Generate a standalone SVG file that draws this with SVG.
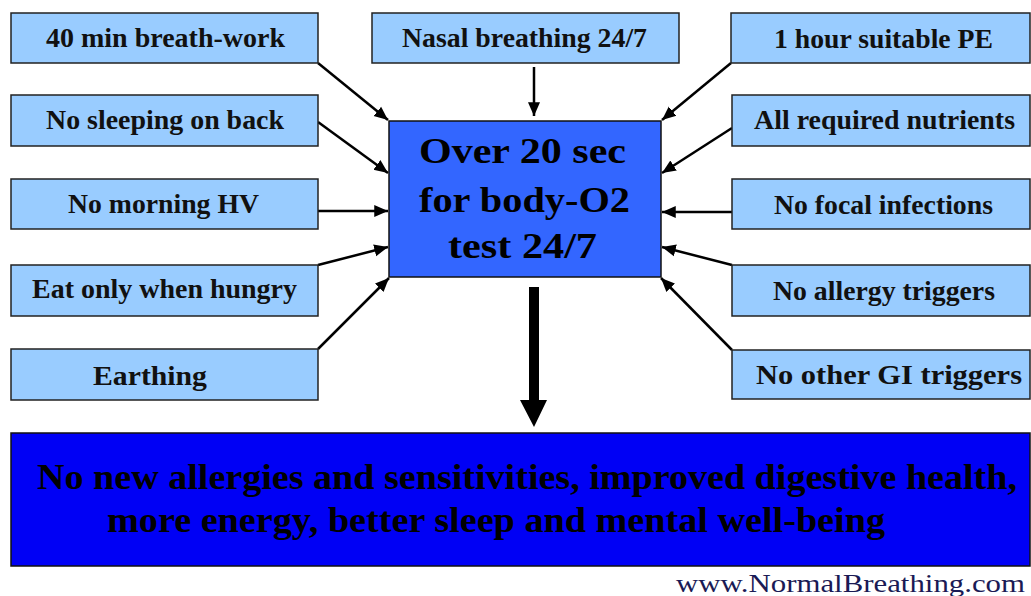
<svg xmlns="http://www.w3.org/2000/svg" width="1031" height="596" viewBox="0 0 1031 596">
<style>
.box{fill:#99CCFF;stroke:#222;stroke-width:1.5}
.lbl{font-family:'Liberation Serif','Times New Roman',serif;font-weight:bold;font-size:27px;fill:#111}
.ctr{font-family:'Liberation Serif','Times New Roman',serif;font-weight:bold;font-size:36px;fill:#000}
.big{font-family:'Liberation Serif','Times New Roman',serif;font-weight:bold;font-size:36px;fill:#000}
.conn{stroke:#000;stroke-width:2.5;fill:none;marker-end:url(#ah)}
</style>
<defs>
<marker id="ah" markerWidth="6" markerHeight="6" refX="5.5" refY="3" orient="auto" markerUnits="strokeWidth">
<path d="M0,0.6 L5.5,3 L0,5.4 Z" fill="#000"/>
</marker>
</defs>
<rect width="1031" height="596" fill="#fff"/>
<g id="connectors">
<line class="conn" x1="318" y1="63" x2="388" y2="120"/>
<line class="conn" x1="318" y1="122" x2="388" y2="173"/>
<line class="conn" x1="318" y1="211" x2="388" y2="211"/>
<line class="conn" x1="318" y1="265" x2="388" y2="247"/>
<line class="conn" x1="318" y1="349" x2="389" y2="278"/>
<line class="conn" x1="534" y1="67" x2="534" y2="116"/>
<line class="conn" x1="731" y1="63" x2="662" y2="120"/>
<line class="conn" x1="732" y1="128" x2="662" y2="173"/>
<line class="conn" x1="732" y1="212" x2="662" y2="212"/>
<line class="conn" x1="732" y1="265" x2="662" y2="247"/>
<line class="conn" x1="732" y1="350" x2="661" y2="278"/>
<path d="M529,287 H539 V400 H547 L534,427 L520,400 H529 Z" fill="#000"/>
</g>
<g id="n1"><rect class="box" x="11" y="13" width="307" height="50"/><text class="lbl" x="46" y="47" textLength="239" lengthAdjust="spacingAndGlyphs">40 min breath-work</text></g>
<g id="n2"><rect class="box" x="11" y="95" width="307" height="51"/><text class="lbl" x="46" y="129" textLength="238" lengthAdjust="spacingAndGlyphs">No sleeping on back</text></g>
<g id="n3"><rect class="box" x="11" y="179" width="307" height="50"/><text class="lbl" x="68" y="213" textLength="191" lengthAdjust="spacingAndGlyphs">No morning HV</text></g>
<g id="n4"><rect class="box" x="11" y="265" width="307" height="51"/><text class="lbl" x="32" y="298" textLength="265" lengthAdjust="spacingAndGlyphs">Eat only when hungry</text></g>
<g id="n5"><rect class="box" x="11" y="349" width="307" height="51"/><text class="lbl" x="93" y="385" textLength="114" lengthAdjust="spacingAndGlyphs">Earthing</text></g>
<g id="n6"><rect class="box" x="372" y="13" width="307" height="50"/><text class="lbl" x="402" y="47" textLength="245" lengthAdjust="spacingAndGlyphs">Nasal breathing 24/7</text></g>
<g id="n7"><rect class="box" x="731" y="13" width="299" height="50"/><text class="lbl" x="774" y="48" textLength="219" lengthAdjust="spacingAndGlyphs">1 hour suitable PE</text></g>
<g id="n8"><rect class="box" x="732" y="95" width="298" height="51"/><text class="lbl" x="754" y="129" textLength="261" lengthAdjust="spacingAndGlyphs">All required nutrients</text></g>
<g id="n9"><rect class="box" x="732" y="179" width="298" height="50"/><text class="lbl" x="774" y="214" textLength="219" lengthAdjust="spacingAndGlyphs">No focal infections</text></g>
<g id="n10"><rect class="box" x="732" y="265" width="298" height="51"/><text class="lbl" x="773" y="300" textLength="222" lengthAdjust="spacingAndGlyphs">No allergy triggers</text></g>
<g id="n11"><rect class="box" x="732" y="350" width="298" height="49"/><text class="lbl" x="756" y="384" textLength="266" lengthAdjust="spacingAndGlyphs">No other GI triggers</text></g>
<g id="center"><rect x="389" y="121" width="272" height="156" fill="#3366FF" stroke="#111" stroke-width="1.5"/>
<text class="ctr" x="419" y="163" textLength="207" lengthAdjust="spacingAndGlyphs">Over 20 sec</text>
<text class="ctr" x="419" y="212" textLength="211" lengthAdjust="spacingAndGlyphs">for body-O2</text>
<text class="ctr" x="448" y="258" textLength="149" lengthAdjust="spacingAndGlyphs">test 24/7</text></g>
<g id="result"><rect x="11" y="433" width="1019" height="133" fill="#0000F5" stroke="#111" stroke-width="1.5"/>
<text class="big" x="37" y="489" textLength="980" lengthAdjust="spacingAndGlyphs">No new allergies and sensitivities, improved digestive health,</text>
<text class="big" x="107" y="532" textLength="778" lengthAdjust="spacingAndGlyphs">more energy, better sleep and mental well-being</text></g>
<text x="676" y="592" font-family="Liberation Serif, Times New Roman, serif" font-size="26" fill="#1a1a55" textLength="349" lengthAdjust="spacingAndGlyphs">www.NormalBreathing.com</text>
</svg>
